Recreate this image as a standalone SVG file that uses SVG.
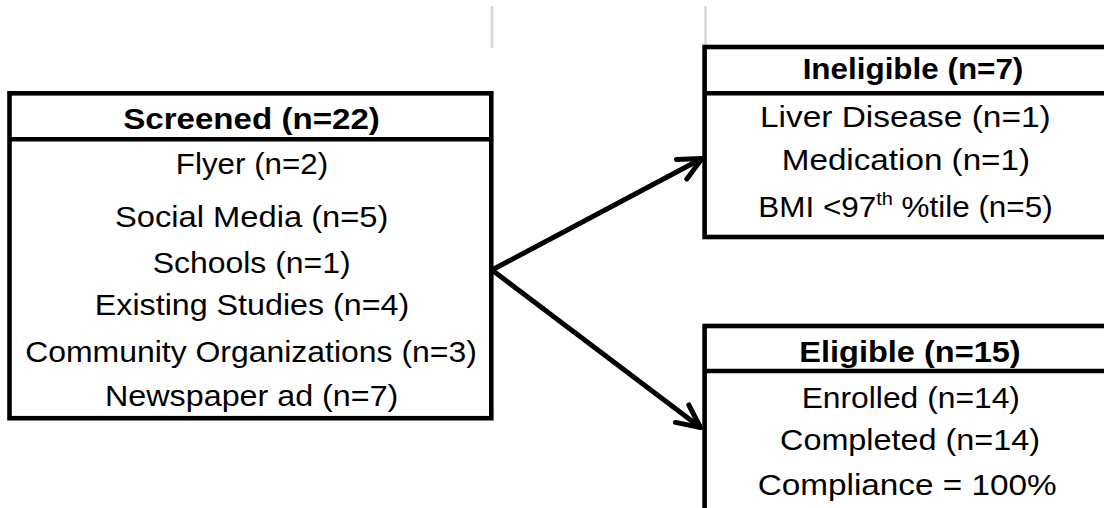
<svg xmlns="http://www.w3.org/2000/svg" width="1104" height="508" viewBox="0 0 1104 508">
  <style>
    .box { fill: #ffffff; stroke: #000000; stroke-width: 4.6; }
    .div { stroke: #000000; stroke-width: 4.6; }
    .hd { font-family: "Liberation Sans", Arial, sans-serif; font-size: 30px; font-weight: bold; fill: #000000; text-anchor: middle; }
    .tx { font-family: "Liberation Sans", Arial, sans-serif; font-size: 30px; fill: #000000; text-anchor: middle; }
    .sup { font-size: 19px; }
    .grid { stroke: #d9d9d9; stroke-width: 2.5; }
    .conn { fill: none; stroke: #000000; stroke-width: 5; stroke-linecap: round; }
  </style>
  <defs>
    <marker id="arrow" markerUnits="userSpaceOnUse" viewBox="-30 -16 36 32" refX="0" refY="0" markerWidth="36" markerHeight="32" orient="auto" overflow="visible">
      <path d="M-23,-11 L0,0 L-23,11" fill="none" stroke="#000000" stroke-width="5" stroke-linecap="round" stroke-linejoin="round"/>
    </marker>
  </defs>
  <rect width="1104" height="508" fill="#ffffff"/>
  <g id="gridlines">
    <line class="grid" x1="492" y1="6" x2="492" y2="48"/>
    <line class="grid" x1="705.5" y1="6" x2="705.5" y2="48"/>
  </g>
  <g id="connectors">
    <line class="conn" x1="492" y1="270" x2="702" y2="158.5" marker-end="url(#arrow)"/>
    <line class="conn" x1="492" y1="270" x2="700.5" y2="427.5" marker-end="url(#arrow)"/>
  </g>
  <g id="screened">
    <rect class="box" x="9.5" y="93.3" width="481.8" height="324.9"/>
    <line class="div" x1="9.5" y1="139.3" x2="491.3" y2="139.3"/>
    <text class="hd" x="251.5" y="128.5" textLength="256.7" lengthAdjust="spacingAndGlyphs">Screened (n=22)</text>
    <text class="tx" x="252" y="174.3" textLength="152.3" lengthAdjust="spacingAndGlyphs">Flyer (n=2)</text>
    <text class="tx" x="251.7" y="226.7" textLength="273.3" lengthAdjust="spacingAndGlyphs">Social Media (n=5)</text>
    <text class="tx" x="251.7" y="272.7" textLength="198" lengthAdjust="spacingAndGlyphs">Schools (n=1)</text>
    <text class="tx" x="252" y="315" textLength="314.3" lengthAdjust="spacingAndGlyphs">Existing Studies (n=4)</text>
    <text class="tx" x="251" y="361.7" textLength="451.7" lengthAdjust="spacingAndGlyphs">Community Organizations (n=3)</text>
    <text class="tx" x="251.7" y="406" textLength="293.3" lengthAdjust="spacingAndGlyphs">Newspaper ad (n=7)</text>
  </g>
  <g id="ineligible">
    <rect class="box" x="704.6" y="47" width="430" height="190"/>
    <line class="div" x1="704.6" y1="93.3" x2="1134.6" y2="93.3"/>
    <text class="hd" x="913" y="79.3" textLength="220.7" lengthAdjust="spacingAndGlyphs">Ineligible (n=7)</text>
    <text class="tx" x="905.3" y="127.3" textLength="290.7" lengthAdjust="spacingAndGlyphs">Liver Disease (n=1)</text>
    <text class="tx" x="905.9" y="170" textLength="248.3" lengthAdjust="spacingAndGlyphs">Medication (n=1)</text>
    <text class="tx" x="905.5" y="216.7" textLength="294.3" lengthAdjust="spacingAndGlyphs">BMI &lt;97<tspan class="sup" dy="-12">th</tspan><tspan dy="12"> %tile (n=5)</tspan></text>
  </g>
  <g id="eligible">
    <rect class="box" x="704.6" y="326" width="430" height="200"/>
    <line class="div" x1="704.6" y1="371" x2="1134.6" y2="371"/>
    <text class="hd" x="910" y="361.7" textLength="221.3" lengthAdjust="spacingAndGlyphs">Eligible (n=15)</text>
    <text class="tx" x="910.8" y="408.3" textLength="218.3" lengthAdjust="spacingAndGlyphs">Enrolled (n=14)</text>
    <text class="tx" x="910" y="450" textLength="260" lengthAdjust="spacingAndGlyphs">Completed (n=14)</text>
    <text class="tx" x="907.2" y="495" textLength="299" lengthAdjust="spacingAndGlyphs">Compliance = 100%</text>
  </g>
</svg>
